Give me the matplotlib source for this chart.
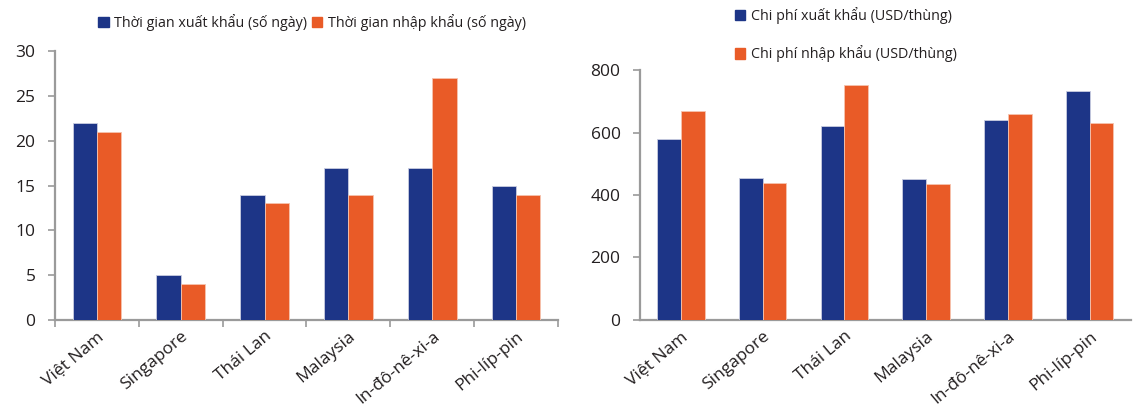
import numpy as np
import matplotlib.pyplot as plt
from matplotlib.patches import Patch

# Số liệu
countries = ['Việt Nam', 'Singapore', 'Thái Lan', 'Malaysia', 'In-đô-nê-xi-a', 'Phi-líp-pin']
export_days = [22, 5, 14, 17, 17, 15]
import_days = [21, 4, 13, 14, 27, 14]
export_cost = [580, 456, 622, 450, 641, 733]
import_cost = [670, 439, 752, 434, 660, 630]

BLUE = '#1d3587'
ORANGE = '#e95b27'
GREY = '#9a9a9a'
TXT = '#231f20'

plt.rcParams['font.family'] = ['Open Sans', 'DejaVu Sans']

fig = plt.figure(figsize=(11.33, 4.08), dpi=100)
ax1 = fig.add_axes([0.0485, 0.2157, 0.444, 0.659])
ax2 = fig.add_axes([0.5649, 0.2157, 0.433, 0.6127])

x = np.arange(len(countries))
w = 0.29


def style(ax, ymax, step, xticks):
    for s in ['top', 'right']:
        ax.spines[s].set_visible(False)
    for s in ['left', 'bottom']:
        ax.spines[s].set_color(GREY)
        ax.spines[s].set_linewidth(1.6)
    ax.set_xlim(-0.5, len(x) - 0.5)
    ax.set_ylim(0, ymax)
    ax.set_yticks(np.arange(0, ymax + 1, step))
    ax.tick_params(axis='y', length=5, width=1.2, color=GREY, labelsize=12.5,
                   labelcolor=TXT, pad=9)
    if xticks:
        ax.set_xticks(np.arange(len(x) + 1) - 0.5, minor=True)
        ax.tick_params(axis='x', which='minor', length=5, width=1.2, color=GREY)
    ax.set_xticks(x)
    ax.set_xticklabels(countries, rotation=40, ha='right', rotation_mode='anchor',
                       fontsize=12.5, color=TXT)
    ax.tick_params(axis='x', which='major', length=0, pad=6)


for ax, a, b, ymax, step, xt in [(ax1, export_days, import_days, 30, 5, True),
                                 (ax2, export_cost, import_cost, 800, 200, False)]:
    ax.bar(x - w / 2, a, width=w, color=BLUE, edgecolor='#c9cde0', linewidth=0.6, zorder=3)
    ax.bar(x + w / 2, b, width=w, color=ORANGE, edgecolor='#f6c3ae', linewidth=0.6, zorder=3)
    style(ax, ymax, step, xt)

sq = dict(handlelength=0.75, handleheight=0.75, handletextpad=0.4, frameon=False,
          prop={'size': 10.3})
fig.legend(handles=[Patch(color=BLUE), Patch(color=ORANGE)],
           labels=['Thời gian xuất khẩu (số ngày)', 'Thời gian nhập khẩu (số ngày)'],
           ncol=2, columnspacing=0.3, loc='center left', bbox_to_anchor=(0.075, 0.945),
           labelcolor=TXT, **sq)
fig.legend(handles=[Patch(color=BLUE), Patch(color=ORANGE)],
           labels=['Chi phí xuất khẩu (USD/thùng)', 'Chi phí nhập khẩu (USD/thùng)'],
           ncol=1, labelspacing=1.5, loc='center left', bbox_to_anchor=(0.637, 0.915),
           labelcolor=TXT, **sq)

fig.savefig('out.png', dpi=100)
